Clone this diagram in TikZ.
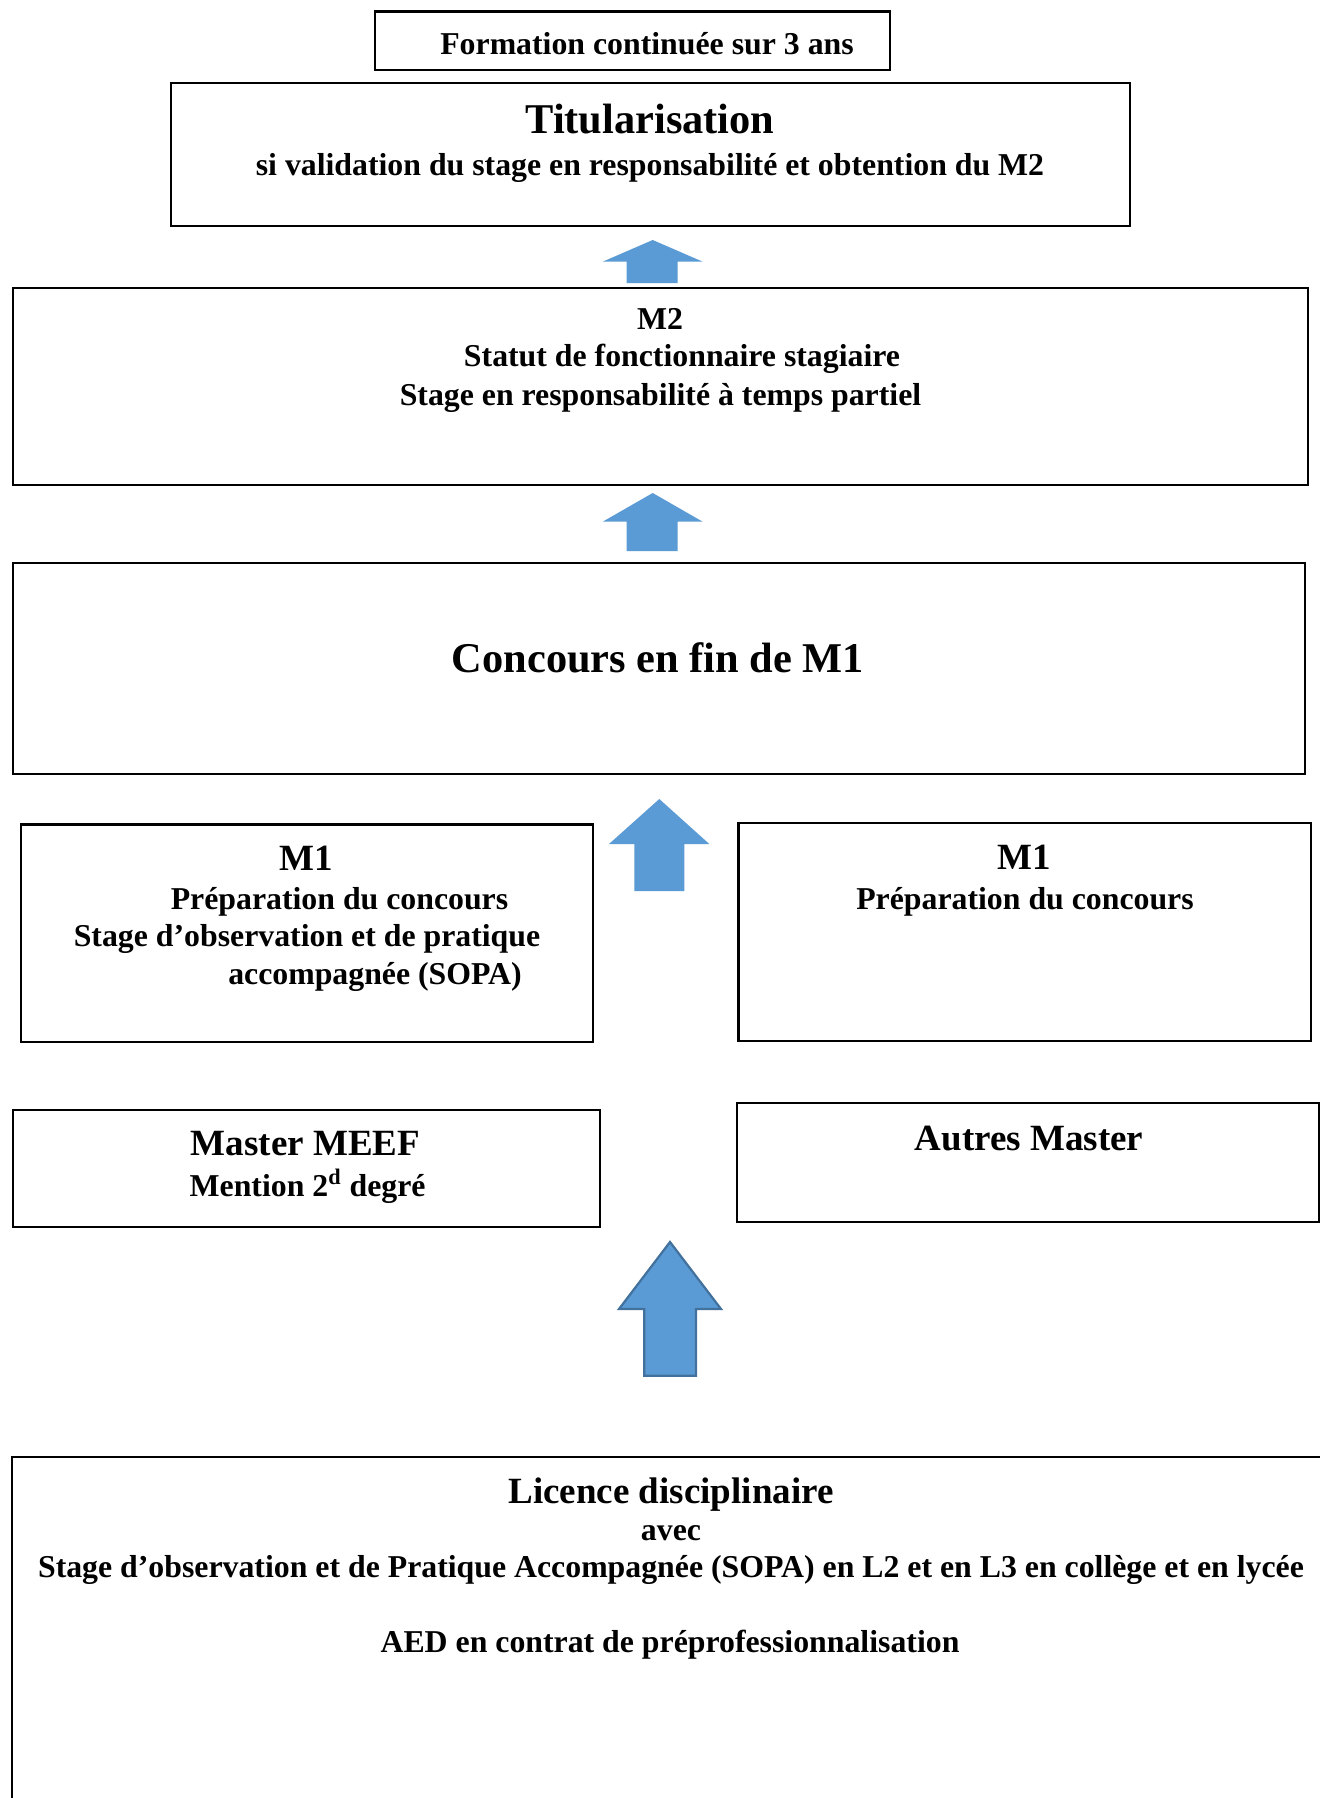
\documentclass[tikz,border=0pt]{standalone}
\usepackage{fontspec}
\setmainfont{Liberation Serif}
\definecolor{arrowblue}{HTML}{5B9BD5}
\definecolor{arrowedge}{HTML}{41719C}
\begin{document}
\begin{tikzpicture}[x=0.5pt,y=-0.5pt,
  frame/.style={draw=black, line width=1.1pt, inner sep=0pt, fill=none},
  txtS/.style={font=\fontsize{15.9}{19}\selectfont\bfseries, inner sep=0pt},
  txtM/.style={font=\fontsize{18.5}{22}\selectfont\bfseries, inner sep=0pt},
  txtL/.style={font=\fontsize{21.2}{25}\selectfont\bfseries, inner sep=0pt},
  blockarrow/.style={fill=arrowblue, draw=none},
  blockarrowedged/.style={fill=arrowblue, draw=arrowedge, line width=1.1pt, line join=miter},
]
\useasboundingbox (0,0) rectangle (1320,1798);
\clip (0,0) rectangle (1320,1798);
\fill[white] (0,0) rectangle (1320,1798);

% frames
\node[frame, minimum width=257.5pt, minimum height=29.25pt] (form) at (632.5,40.75) {};
\node[frame, minimum width=479.5pt, minimum height=71.5pt] (titu) at (650.5,154.5) {};
\node[frame, minimum width=647.7pt, minimum height=98.5pt] (mtwo) at (660.3,386.5) {};
\node[frame, minimum width=646.2pt, minimum height=105.5pt] (conc) at (658.8,668.5) {};
\node[frame, minimum width=286.2pt, minimum height=108.75pt] (mleft) at (306.8,933.25) {};
\node[frame, minimum width=286.25pt, minimum height=109pt] (mright) at (1024.75,932) {};
\node[frame, minimum width=293.7pt, minimum height=58.5pt] (meef) at (306.3,1168.5) {};
\node[frame, minimum width=291pt, minimum height=59.5pt] (autres) at (1028,1162.5) {};
\node[frame, minimum width=664pt, minimum height=181.5pt] (lic) at (676,1638.5) {};

% block arrows
\fill[blockarrow] (652.7,240) -- (702.7,261.7) -- (677.7,261.7) -- (677.7,283)
  -- (626.7,283) -- (626.7,261.7) -- (602.7,261.7) -- cycle;
\fill[blockarrow] (652.7,493) -- (702.7,521.7) -- (677.7,521.7) -- (677.7,551)
  -- (626.7,551) -- (626.7,521.7) -- (602.7,521.7) -- cycle;
\fill[blockarrow] (659.3,799) -- (709.3,844) -- (684.3,844) -- (684.3,891)
  -- (634.3,891) -- (634.3,844) -- (609,844) -- cycle;
\filldraw[blockarrowedged] (670,1242) -- (721,1309) -- (696,1309) -- (696,1375.7)
  -- (644.3,1375.7) -- (644.3,1309) -- (619,1309) -- cycle;

% texts
\node[txtS] (formtxt) at (647,44) {Formation continuée sur 3 ans};
\node[txtL] (titutxt) at (650,119) {Titularisation};
\node[txtS] (titusub) at (650,167.5) {si validation du stage en responsabilité et obtention du M2};

\node[txtS] (mtwotxt) at (660,318.5) {M2};
\node[txtS] (mtwoa) at (682,358.5) {Statut de fonctionnaire stagiaire};
\node[txtS] (mtwob) at (660.5,397.5) {Stage en responsabilité à temps partiel};

\node[txtL] (conctxt) at (658,658) {Concours en fin de M1};

\node[txtM] (mlefttxt) at (306,858) {M1};
\node[txtS] (mlefta) at (339.5,901.5) {Préparation du concours};
\node[txtS] (mleftb) at (307,939) {Stage d’observation et de pratique};
\node[txtS] (mleftc) at (375,977) {accompagnée (SOPA)};

\node[txtM] (mrighttxt) at (1024,857) {M1};
\node[txtS] (mrighta) at (1025,901.5) {Préparation du concours};

\node[txtM] (meeftxt) at (305.5,1144) {Master MEEF};
\node[txtS] (meefsub) at (307.6,1186.5) {Mention 2\textsuperscript{d} degré};

\node[txtM] (autrestxt) at (1029,1138) {Autres Master};

\node[txtM] (lictxt) at (671,1494.5) {Licence disciplinaire};
\node[txtS] (lica) at (671,1533.5) {avec};
\node[txtS] (licb) at (671,1570) {Stage d’observation et de Pratique Accompagnée (SOPA) en L2 et en L3 en collège et en lycée};
\node[txtS] (licc) at (670,1644.5) {AED en contrat de préprofessionnalisation};
\end{tikzpicture}
\end{document}
